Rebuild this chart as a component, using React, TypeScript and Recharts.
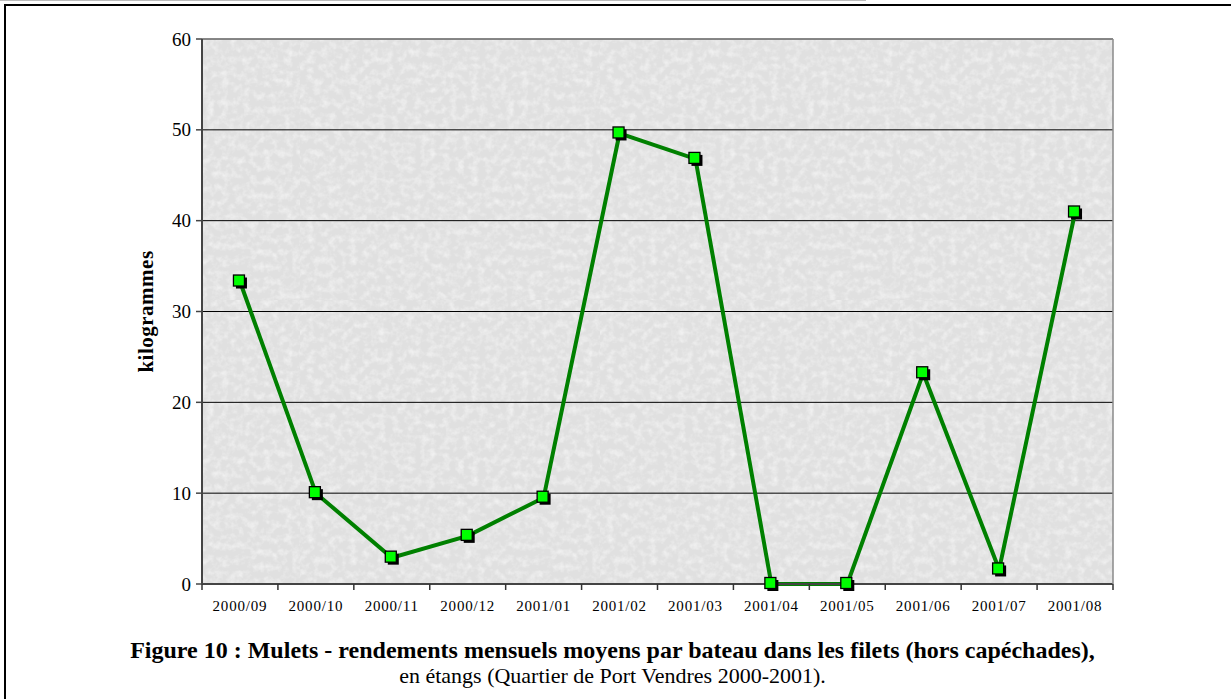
import React from "react";
import {
  LineChart,
  Line,
  XAxis,
  YAxis,
  CartesianGrid,
  ReferenceLine,
} from "recharts";

// monthly mean yield per boat (kg)
const months = [
  "2000/09", "2000/10", "2000/11", "2000/12", "2001/01", "2001/02",
  "2001/03", "2001/04", "2001/05", "2001/06", "2001/07", "2001/08",
];
const yields = [33.3, 10.0, 2.9, 5.3, 9.5, 49.6, 46.8, 0, 0, 23.2, 1.6, 40.9];
const yTicks = [0, 10, 20, 30, 40, 50, 60];

const captionBold =
  "Figure 10 : Mulets - rendements mensuels moyens par bateau dans les filets (hors capéchades),";
const captionPlain = "en étangs (Quartier de Port Vendres 2000-2001).";

const W = 1231;
const H = 699;
const FONT = "'Liberation Serif', 'Times New Roman', serif";
const AXIS = "#444";

const chartData = months.map((m, i) => ({ month: m, kg: yields[i] }));

// green square with a black drop shadow, like the old Excel marker
const SquareDot = (props: any) => {
  const { cx, cy, index } = props;
  if (cx == null || cy == null) return <g key={index} />;
  return (
    <g key={index}>
      <rect x={cx - 4} y={cy - 4} width={11} height={11} fill="#000" />
      <rect
        x={cx - 6.5}
        y={cy - 6.5}
        width={11}
        height={11}
        fill="#00ff00"
        stroke="#000"
        strokeWidth={1.3}
      />
    </g>
  );
};

const YTick = (props: any) => {
  const { x, y, payload } = props;
  return (
    <text
      x={x}
      y={y}
      textAnchor="end"
      dominantBaseline="central"
      fontFamily={FONT}
      fontSize={19}
      fill="#000"
    >
      {payload.value}
    </text>
  );
};

// label in the middle of the band, tick marks on the band edges (Excel style)
const XTick = (props: any) => {
  const { x, y, payload, index, visibleTicksCount } = props;
  const half = payload.offset || 911 / months.length / 2;
  const top = y - 6;
  const isLast = index === (visibleTicksCount ?? months.length) - 1;
  return (
    <g>
      <line x1={x - half} x2={x - half} y1={top} y2={top + 6} stroke="#333" strokeWidth={1.5} />
      {isLast && (
        <line x1={x + half} x2={x + half} y1={top} y2={top + 6} stroke="#333" strokeWidth={1.5} />
      )}
      <text
        x={x}
        y={y}
        dy={21}
        textAnchor="middle"
        fontFamily={FONT}
        fontSize={15}
        letterSpacing={0.8}
        fill="#000"
      >
        {payload.value}
      </text>
    </g>
  );
};

const YLabel = (props: any) => {
  const { viewBox } = props;
  const x = viewBox.x + 14;
  const y = viewBox.y + viewBox.height / 2;
  return (
    <text
      x={x}
      y={y}
      transform={`rotate(-90, ${x}, ${y})`}
      textAnchor="middle"
      dominantBaseline="central"
      fontFamily={FONT}
      fontWeight="bold"
      fontSize={21}
      letterSpacing={0.5}
      fill="#000"
    >
      kilogrammes
    </text>
  );
};

export default function App() {
  return (
    <div
      style={{
        position: "absolute",
        left: 0,
        top: 0,
        width: W,
        height: H,
        background: "#fff",
        overflow: "hidden",
        fontFamily: FONT,
      }}
    >
      {/* page frame */}
      <div style={{ position: "absolute", left: 0, top: 0, width: 866, height: 1, background: "#bbb" }} />
      <div
        style={{
          position: "absolute",
          left: 4,
          top: 4,
          width: W,
          height: H,
          borderTop: "2px solid #000",
          borderLeft: "2px solid #000",
        }}
      />

      <div style={{ position: "absolute", left: 0, top: 0 }}>
        <LineChart
          width={W}
          height={H}
          data={chartData}
          margin={{ top: 39, right: 117, bottom: 84, left: 132 }}
        >
          <defs>
            <filter id="paperNoise" x="0" y="0" width="100%" height="100%">
              <feTurbulence type="fractalNoise" baseFrequency="0.14" numOctaves="3" seed="11" />
              <feColorMatrix
                type="matrix"
                values="0 0 0 0 1  0 0 0 0 1  0 0 0 0 1  1.1 0 0 0 -0.45"
              />
            </filter>
            <pattern id="paper" patternUnits="userSpaceOnUse" width="300" height="300">
              <rect width="300" height="300" fill="#e0e0e0" />
              <rect width="300" height="300" filter="url(#paperNoise)" />
            </pattern>
          </defs>
          <CartesianGrid
            vertical={false}
            stroke="#000"
            strokeWidth={1}
            fill="url(#paper)"
            fillOpacity={1}
          />
          <XAxis
            dataKey="month"
            scale="band"
            height={31}
            axisLine={{ stroke: AXIS, strokeWidth: 2 }}
            tickLine={false}
            tickSize={6}
            tickMargin={0}
            interval={0}
            tick={<XTick />}
          />
          <YAxis
            width={70}
            domain={[0, 60]}
            ticks={yTicks}
            interval={0}
            tickSize={6}
            tickMargin={5}
            axisLine={{ stroke: AXIS, strokeWidth: 2 }}
            tickLine={{ stroke: AXIS, strokeWidth: 1.5 }}
            tick={<YTick />}
            label={<YLabel />}
          />
          {/* right frame of the plot area */}
          <YAxis
            yAxisId="right"
            orientation="right"
            width={1}
            domain={[0, 60]}
            tick={false}
            tickLine={false}
            axisLine={{ stroke: "#8a8a8a", strokeWidth: 1.5 }}
          />
          <ReferenceLine y={60} stroke="#8a8a8a" strokeWidth={1.5} />
          <Line
            type="linear"
            dataKey="kg"
            stroke="#008000"
            strokeWidth={4}
            dot={<SquareDot />}
            activeDot={false}
            isAnimationActive={false}
          />
        </LineChart>
      </div>

      <div
        style={{
          position: "absolute",
          left: 0,
          width: W,
          top: 637,
          textAlign: "center",
          color: "#000",
        }}
      >
        <div style={{ fontWeight: "bold", fontSize: 24, lineHeight: "27px", marginLeft: -6 }}>
          {captionBold}
        </div>
        <div style={{ fontSize: 22, lineHeight: "24px", marginLeft: -6 }}>{captionPlain}</div>
      </div>
    </div>
  );
}
